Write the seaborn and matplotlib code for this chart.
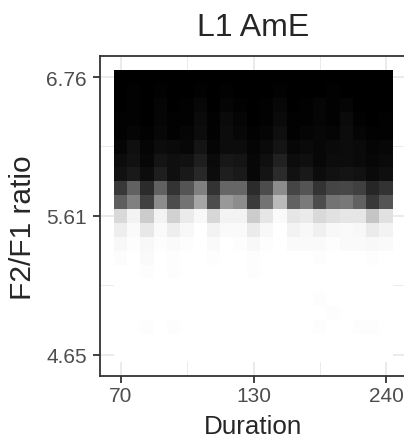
""" Heatmap of F2/F1 ratio by duration for L1 AmE """

import numpy as np
import pandas as pd
import seaborn as sns
import matplotlib.pyplot as plt

# Axis breaks (log scale in the original)
duration_ticks = [70, 130, 240]
ratio_ticks = [6.76, 5.61, 4.65]

# Tile brightness (0 = black, 1 = white), rows from top (6.76) to bottom (4.65),
# 21 duration steps from 70 to 240
brightness = [
    [0.00, 0.00, 0.00, 0.00, 0.00, 0.00, 0.00, 0.00, 0.00, 0.00, 0.00, 0.00, 0.00, 0.00, 0.00, 0.00, 0.00, 0.00, 0.00, 0.00, 0.00],
    [0.00, 0.01, 0.00, 0.01, 0.00, 0.00, 0.01, 0.00, 0.01, 0.00, 0.00, 0.00, 0.01, 0.00, 0.00, 0.00, 0.01, 0.00, 0.00, 0.00, 0.00],
    [0.00, 0.01, 0.00, 0.02, 0.00, 0.01, 0.03, 0.00, 0.02, 0.01, 0.00, 0.01, 0.03, 0.00, 0.01, 0.02, 0.01, 0.02, 0.00, 0.00, 0.00],
    [0.01, 0.01, 0.00, 0.02, 0.01, 0.01, 0.04, 0.01, 0.04, 0.02, 0.00, 0.01, 0.04, 0.01, 0.01, 0.02, 0.01, 0.04, 0.01, 0.00, 0.01],
    [0.01, 0.02, 0.01, 0.03, 0.01, 0.02, 0.05, 0.01, 0.05, 0.03, 0.01, 0.02, 0.06, 0.01, 0.02, 0.03, 0.02, 0.05, 0.02, 0.01, 0.01],
    [0.02, 0.06, 0.02, 0.05, 0.04, 0.03, 0.08, 0.02, 0.05, 0.05, 0.02, 0.04, 0.08, 0.03, 0.04, 0.03, 0.04, 0.05, 0.04, 0.02, 0.03],
    [0.05, 0.07, 0.03, 0.08, 0.06, 0.07, 0.12, 0.04, 0.09, 0.08, 0.03, 0.06, 0.13, 0.05, 0.06, 0.03, 0.05, 0.05, 0.04, 0.03, 0.04],
    [0.07, 0.10, 0.05, 0.12, 0.06, 0.10, 0.16, 0.05, 0.12, 0.10, 0.03, 0.08, 0.17, 0.07, 0.10, 0.05, 0.07, 0.08, 0.07, 0.04, 0.06],
    [0.22, 0.38, 0.17, 0.38, 0.20, 0.33, 0.50, 0.20, 0.40, 0.40, 0.17, 0.30, 0.55, 0.27, 0.33, 0.20, 0.27, 0.28, 0.25, 0.15, 0.20],
    [0.37, 0.50, 0.25, 0.55, 0.30, 0.45, 0.65, 0.30, 0.60, 0.55, 0.23, 0.45, 0.73, 0.38, 0.48, 0.30, 0.45, 0.47, 0.38, 0.22, 0.33],
    [0.85, 0.95, 0.80, 0.95, 0.82, 0.92, 0.97, 0.84, 0.95, 0.95, 0.80, 0.90, 0.98, 0.90, 0.92, 0.85, 0.88, 0.90, 0.90, 0.77, 0.88],
    [0.93, 0.98, 0.91, 0.98, 0.93, 0.97, 1.00, 0.95, 0.98, 0.98, 0.92, 0.97, 1.00, 0.95, 0.97, 0.94, 0.97, 0.98, 0.97, 0.92, 0.95],
    [0.97, 0.99, 0.97, 0.99, 0.98, 0.99, 1.00, 0.98, 1.00, 0.99, 0.97, 0.99, 1.00, 0.98, 0.98, 0.98, 0.99, 0.98, 0.98, 0.97, 0.98],
    [0.985, 1.00, 0.98, 1.00, 0.99, 1.00, 1.00, 0.99, 1.00, 1.00, 0.99, 1.00, 1.00, 1.00, 1.00, 0.99, 1.00, 1.00, 1.00, 0.99, 1.00],
    [1.00, 1.00, 0.99, 1.00, 0.99, 1.00, 1.00, 1.00, 1.00, 1.00, 0.99, 1.00, 1.00, 1.00, 1.00, 1.00, 1.00, 1.00, 1.00, 1.00, 1.00],
    [1.00, 1.00, 1.00, 1.00, 1.00, 1.00, 1.00, 1.00, 1.00, 1.00, 1.00, 1.00, 1.00, 1.00, 1.00, 1.00, 1.00, 1.00, 1.00, 1.00, 1.00],
    [1.00, 1.00, 1.00, 1.00, 1.00, 1.00, 1.00, 1.00, 1.00, 1.00, 1.00, 1.00, 1.00, 1.00, 1.00, 0.99, 1.00, 1.00, 1.00, 1.00, 1.00],
    [1.00, 1.00, 1.00, 1.00, 1.00, 1.00, 1.00, 1.00, 1.00, 1.00, 1.00, 1.00, 1.00, 1.00, 1.00, 1.00, 0.99, 1.00, 1.00, 1.00, 1.00],
    [1.00, 1.00, 0.99, 1.00, 0.99, 1.00, 1.00, 1.00, 1.00, 1.00, 1.00, 1.00, 1.00, 1.00, 1.00, 0.99, 1.00, 1.00, 0.99, 0.99, 1.00],
    [1.00, 1.00, 1.00, 1.00, 1.00, 1.00, 1.00, 1.00, 1.00, 1.00, 1.00, 1.00, 1.00, 1.00, 1.00, 1.00, 1.00, 1.00, 1.00, 1.00, 1.00],
    [1.00, 1.00, 1.00, 1.00, 1.00, 1.00, 1.00, 1.00, 1.00, 1.00, 1.00, 1.00, 1.00, 1.00, 1.00, 1.00, 1.00, 1.00, 1.00, 1.00, 1.00],
]


def log_pos(values, lo, hi, n):
    """ Map break values onto heatmap cell centres (log spaced levels) """
    values = np.log(np.asarray(values, dtype=float))
    return 0.5 + (n - 1) * (values - np.log(lo)) / (np.log(hi) - np.log(lo))


def plot():
    sns.set_style("white")
    plt.rcParams["font.family"] = ["Liberation Sans", "DejaVu Sans"]

    df = pd.DataFrame(brightness)
    n_rows, n_cols = df.shape

    fig = plt.figure(figsize=(4.04, 4.39), dpi=100)
    ax = fig.add_axes([100 / 404, 1 - 377.3 / 439, 306.7 / 404, 320.6 / 439])
    sns.heatmap(df, cmap="gray", vmin=0, vmax=1, cbar=False, ax=ax,
                xticklabels=False, yticklabels=False)

    # ggplot-like 5% expansion around the tiles
    ax.set_xlim(-0.05 * n_cols, n_cols * 1.05)
    ax.set_ylim(n_rows * 1.05, -0.05 * n_rows)

    # Breaks and midpoint minor breaks
    xmaj = log_pos(duration_ticks, duration_ticks[0], duration_ticks[-1], n_cols)
    ymaj = log_pos([1 / v for v in ratio_ticks], 1 / ratio_ticks[0], 1 / ratio_ticks[-1], n_rows)
    ax.set_xticks(xmaj)
    ax.set_xticklabels([str(v) for v in duration_ticks])
    ax.set_yticks(ymaj)
    ax.set_yticklabels([f"{v:.2f}" for v in ratio_ticks], rotation=0)
    ax.set_xticks((xmaj[:-1] + xmaj[1:]) / 2, minor=True)
    ax.set_yticks((ymaj[:-1] + ymaj[1:]) / 2, minor=True)

    ax.set_axisbelow(True)
    ax.grid(True, which="major", color="#EBEBEB", linewidth=1.4)
    ax.grid(True, which="minor", color="#EBEBEB", linewidth=0.7)
    ax.tick_params(which="major", length=4.8, width=1.3, color="#333333",
                   labelsize=15, labelcolor="#4D4D4D", left=True, bottom=True)
    ax.tick_params(axis="x", pad=2.5)
    ax.tick_params(axis="y", pad=4.5)
    ax.tick_params(which="minor", length=0)
    for spine in ax.spines.values():
        spine.set_visible(True)
        spine.set_color("#333333")
        spine.set_linewidth(1.3)

    # Titles
    ax.set_xlabel("")
    ax.set_ylabel("")
    fig.text(253 / 404, 1 - 36 / 439, "L1 AmE", ha="center", va="baseline", fontsize=23)
    fig.text(253 / 404, 1 - 434 / 439, "Duration", ha="center", va="baseline", fontsize=18.7)
    fig.text(23 / 404, 1 - 228 / 439, "F2/F1 ratio", ha="center", va="center",
             rotation=90, fontsize=21.5)

    fig.savefig("out.png", dpi=100)


if __name__ == "__main__":
    plot()
